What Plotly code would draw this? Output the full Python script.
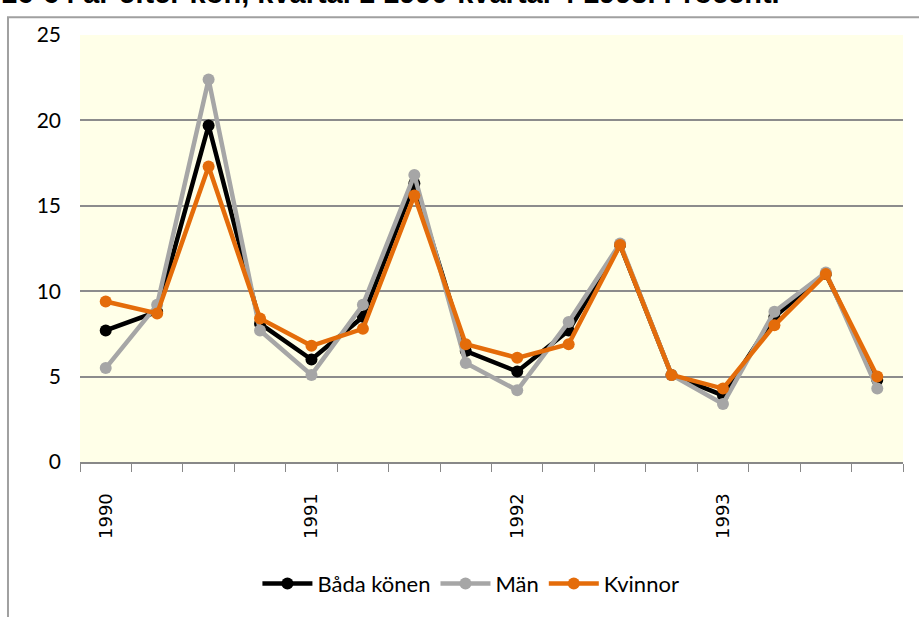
import plotly.graph_objects as go

# Quarterly values 1990 Q1 .. 1993 Q4 (procent)
quarters = [
    "1990 K1", "1990 K2", "1990 K3", "1990 K4",
    "1991 K1", "1991 K2", "1991 K3", "1991 K4",
    "1992 K1", "1992 K2", "1992 K3", "1992 K4",
    "1993 K1", "1993 K2", "1993 K3", "1993 K4",
]
year_labels = ["1990", "1991", "1992", "1993"]
year_positions = [0, 4, 8, 12]

bada_konen = [7.7, 8.8, 19.7, 8.1, 6.0, 8.5, 16.3, 6.5,
              5.3, 7.7, 12.7, 5.1, 3.9, 8.5, 11.0, 4.8]
man = [5.5, 9.2, 22.4, 7.7, 5.1, 9.2, 16.8, 5.8,
       4.2, 8.2, 12.8, 5.1, 3.4, 8.8, 11.1, 4.3]
kvinnor = [9.4, 8.7, 17.3, 8.4, 6.8, 7.8, 15.6, 6.9,
           6.1, 6.9, 12.7, 5.1, 4.3, 8.0, 11.0, 5.0]

series = [
    ("Båda könen", bada_konen, "#000000"),
    ("Män", man, "#A6A6A6"),
    ("Kvinnor", kvinnor, "#E46C0A"),
]

x = list(range(len(quarters)))

fig = go.Figure()
for name, vals, color in series:
    fig.add_trace(
        go.Scatter(
            x=x,
            y=vals,
            name=name,
            mode="lines+markers",
            line=dict(color=color, width=4.5),
            marker=dict(color=color, size=12),
            customdata=quarters,
            hovertemplate="%{customdata}: %{y}<extra>" + name + "</extra>",
        )
    )

fig.update_layout(
    width=919,
    height=617,
    margin=dict(l=80, r=16, t=35, b=150),
    paper_bgcolor="white",
    plot_bgcolor="#FFFFE8",
    font=dict(family="Lato, Open Sans, sans-serif", size=21, color="black"),
    showlegend=True,
    legend=dict(
        orientation="h",
        x=0.475,
        xanchor="center",
        y=-0.285,
        yanchor="middle",
        font=dict(size=22),
        itemwidth=50,
    ),
    shapes=[
        dict(
            type="rect", xref="paper", yref="paper",
            x0=-0.0875, x1=1.06, y0=-0.6, y1=1.0417,
            line=dict(color="#A0A0A0", width=2), layer="below",
        )
    ],
    annotations=[
        dict(
            text="<b>16-64 år efter kön, kvartal 1 1990-kvartal 4 1993. Procent.</b>",
            xref="paper", yref="paper",
            x=-0.099, xanchor="left",
            y=1.0556, yanchor="bottom",
            showarrow=False,
            font=dict(family="Liberation Sans, Arial, sans-serif", size=29),
        )
    ],
)

fig.update_xaxes(
    range=[-0.5, len(quarters) - 0.5],
    tickvals=year_positions,
    ticktext=year_labels,
    tickangle=-90,
    ticks="",
    tickfont=dict(family="DejaVu Sans, sans-serif", size=18),
    showgrid=False,
    zeroline=False,
    showline=True,
    linecolor="#888888",
    linewidth=2,
    minor=dict(tick0=-0.5, dtick=1, ticks="outside", ticklen=8,
               tickcolor="#888888", tickwidth=1, showgrid=False),
    ticklabelstandoff=22,
)
fig.update_yaxes(
    range=[0, 25],
    tickvals=[0, 5, 10, 15, 20, 25],
    showgrid=True,
    gridcolor="#8C8C8C",
    gridwidth=2,
    zeroline=False,
    showline=False,
    ticks="",
    ticklabelstandoff=18,
)

# page body has a default 8px margin; drop it so the figure sits at the corner
fig.write_html(
    "out.html",
    config={"displayModeBar": False},
    post_script="document.body.style.margin='0';",
)
